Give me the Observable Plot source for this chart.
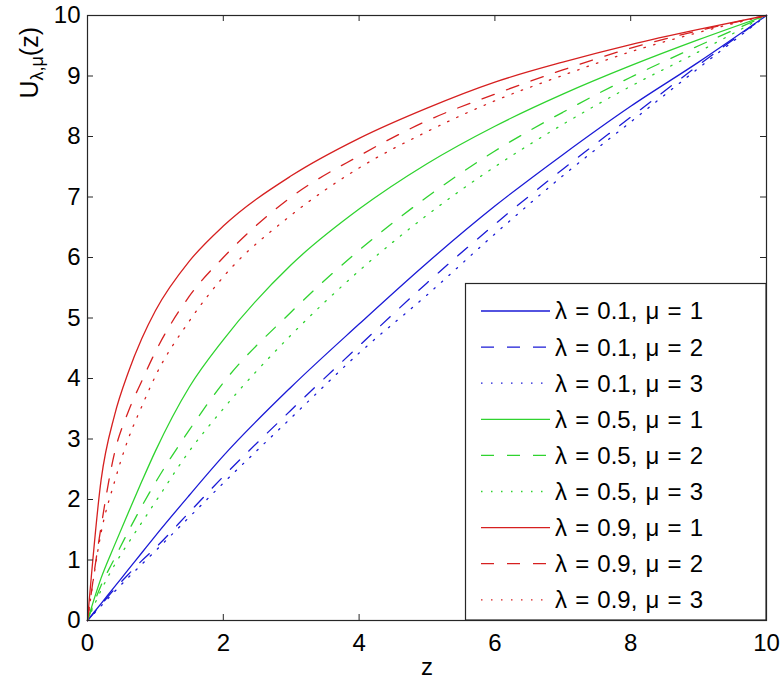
<!DOCTYPE html>
<html><head><meta charset="utf-8">
<script src="https://cdn.jsdelivr.net/npm/d3@7"></script>
<script src="https://cdn.jsdelivr.net/npm/@observablehq/plot@0.6"></script>
<style>body{margin:0;background:#fff}</style>
</head><body><div id="chart"></div><script>
// ---- data ----
const zValues = [0, 0.2, 0.4, 0.6, 0.8, 1, 1.5, 2, 3, 4, 5, 6, 7, 8, 9, 10];
const u_l01_m1 = [0, 0.28, 0.56, 0.84, 1.12, 1.40, 2.07, 2.72, 3.86, 4.90, 5.91, 6.85, 7.70, 8.50, 9.23, 10];
const u_l01_m2 = [0, 0.26, 0.52, 0.76, 0.99, 1.20, 1.79, 2.38, 3.48, 4.54, 5.58, 6.55, 7.46, 8.32, 9.18, 10];
const u_l01_m3 = [0, 0.24, 0.48, 0.71, 0.93, 1.15, 1.71, 2.27, 3.35, 4.42, 5.38, 6.39, 7.35, 8.24, 9.13, 10];
const u_l05_m1 = [0, 0.70, 1.25, 1.78, 2.30, 2.80, 3.86, 4.64, 5.88, 6.80, 7.55, 8.17, 8.70, 9.17, 9.60, 10];
const u_l05_m2 = [0, 0.58, 1.03, 1.47, 1.89, 2.28, 3.15, 3.93, 5.10, 6.12, 7.00, 7.76, 8.40, 8.98, 9.50, 10];
const u_l05_m3 = [0, 0.50, 0.92, 1.28, 1.62, 1.96, 2.80, 3.50, 4.72, 5.78, 6.70, 7.50, 8.20, 8.83, 9.40, 10];
const u_l09_m1 = [0, 2.32, 3.40, 4.10, 4.66, 5.12, 5.94, 6.52, 7.35, 7.97, 8.47, 8.90, 9.23, 9.52, 9.77, 10];
const u_l09_m2 = [0, 1.55, 2.78, 3.45, 3.96, 4.44, 5.36, 6.00, 7.00, 7.68, 8.26, 8.70, 9.10, 9.46, 9.75, 10];
const u_l09_m3 = [0, 1.45, 2.30, 3.00, 3.54, 4.04, 4.95, 5.68, 6.70, 7.48, 8.08, 8.59, 9.01, 9.40, 9.72, 10];

const lambdas = ["0.1", "0.5", "0.9"];
const mus = ["1", "2", "3"];
const seriesList = [
  {lambda: "0.1", mu: "1", values: u_l01_m1},
  {lambda: "0.1", mu: "2", values: u_l01_m2},
  {lambda: "0.1", mu: "3", values: u_l01_m3},
  {lambda: "0.5", mu: "1", values: u_l05_m1},
  {lambda: "0.5", mu: "2", values: u_l05_m2},
  {lambda: "0.5", mu: "3", values: u_l05_m3},
  {lambda: "0.9", mu: "1", values: u_l09_m1},
  {lambda: "0.9", mu: "2", values: u_l09_m2},
  {lambda: "0.9", mu: "3", values: u_l09_m3}
];
const xTicks = [0, 2, 4, 6, 8, 10];
const yTicks = [0, 1, 2, 3, 4, 5, 6, 7, 8, 9, 10];
const xLabel = "z";

// ---- styles ----
const lambdaColors = ["#1a1ad6", "#2fd32f", "#d62020"];
const dashFor = {"1": "none", "2": "13,13", "3": "1.5,8.5"};
const labelOf = s => `λ = ${s.lambda}, μ = ${s.mu}`;

const rows = seriesList.flatMap(s => zValues.map((z, i) => ({z, u: s.values[i], lambda: s.lambda, mu: s.mu, label: labelOf(s)})));

const W = 783, H = 689, mL = 87, mR = 17, mT = 15, mB = 69;
const plotW = W - mL - mR, plotH = H - mT - mB;
const tickLen = 6;
const axisColor = "#262626";

const svg = Plot.plot({
  width: W, height: H,
  marginLeft: mL, marginRight: mR, marginTop: mT, marginBottom: mB,
  style: {fontFamily: "'Liberation Sans', Arial, Helvetica, sans-serif", fontSize: "24px", color: "#000", background: "#fff"},
  x: {domain: [0, 10]},
  y: {domain: [0, 10]},
  color: {domain: lambdas, range: lambdaColors},
  marks: [
    ...mus.map(mu => Plot.line(rows.filter(r => r.mu === mu), {
      x: "z", y: "u", z: "label", stroke: "lambda",
      strokeWidth: 1.3, strokeDasharray: dashFor[mu], curve: "monotone-x"
    })),
    Plot.frame({stroke: axisColor, strokeWidth: 1.2}),
    Plot.tickX(xTicks, {x: d => d, insetTop: plotH - tickLen, stroke: axisColor}),
    Plot.tickX(xTicks, {x: d => d, insetBottom: plotH - tickLen, stroke: axisColor}),
    Plot.tickY(yTicks, {y: d => d, insetRight: plotW - tickLen, stroke: axisColor}),
    Plot.tickY(yTicks, {y: d => d, insetLeft: plotW - tickLen, stroke: axisColor}),
    Plot.axisX({ticks: xTicks, tickSize: 0, tickPadding: 13, label: null, fontSize: 24}),
    Plot.axisY({ticks: yTicks, tickSize: 0, tickPadding: 7, label: null, fontSize: 24}),
    Plot.text([xLabel], {text: d => d, frameAnchor: "bottom", dy: 54, lineAnchor: "bottom", fontSize: 24})
  ]
});
document.getElementById("chart").append(svg);

// ---- y label with subscript ----
const root = d3.select(svg);
const yl = root.append("text")
  .attr("transform", "translate(38,27) rotate(-90)")
  .attr("text-anchor", "end")
  .attr("font-size", 25)
  .attr("fill", "#000");
yl.append("tspan").text("U");
yl.append("tspan").attr("font-size", 18).attr("dy", 5).text("λ,μ");
yl.append("tspan").attr("dy", -5).text("(z)");

// ---- legend ----
const color = svg.scale("color");
const boxW = 301, boxH = 337;
const bx = W - mR - boxW, by = H - mB - boxH;
const lg = root.append("g").attr("text-anchor", "start");
lg.append("rect").attr("x", bx + 0.5).attr("y", by + 0.5).attr("width", boxW - 0.5).attr("height", boxH - 0.5)
  .attr("fill", "#fff").attr("stroke", axisColor).attr("stroke-width", 1.2);
seriesList.forEach((s, i) => {
  const cy = by + 28 + i * 36.1;
  lg.append("line").attr("x1", bx + 16).attr("x2", bx + 85).attr("y1", cy).attr("y2", cy)
    .attr("stroke", color.apply(s.lambda)).attr("stroke-width", 1.3)
    .attr("stroke-dasharray", dashFor[s.mu]);
  lg.append("text").attr("x", bx + 90).attr("y", cy).attr("dy", "0.35em")
    .attr("text-anchor", "start").attr("word-spacing", 1.5)
    .attr("font-size", 24).attr("fill", "#000").text(labelOf(s));
});
</script></body></html>
